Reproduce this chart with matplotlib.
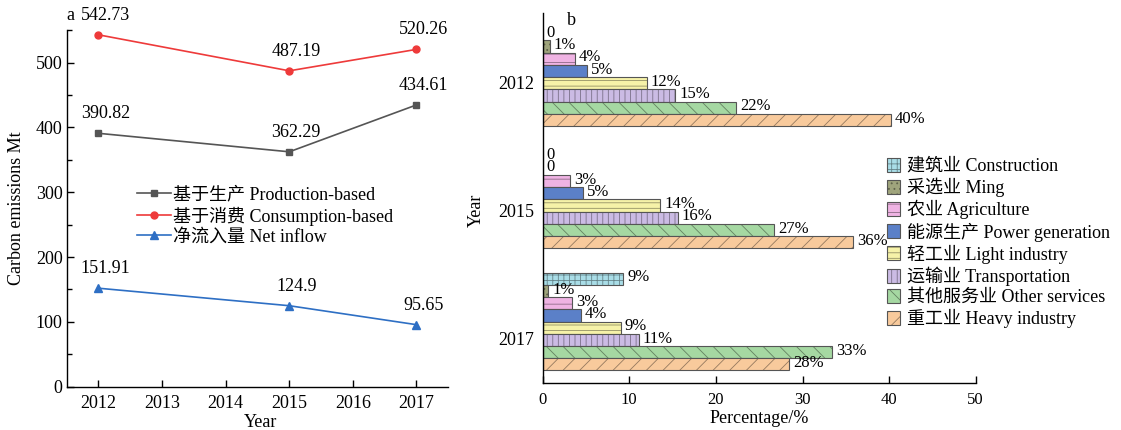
import numpy as np
import matplotlib
matplotlib.use('Agg')
from matplotlib import pyplot as plt
from matplotlib.patches import Patch
from matplotlib.ticker import MultipleLocator
from matplotlib.legend_handler import HandlerTuple

plt.rcParams['font.family'] = ['Liberation Serif', 'Noto Sans CJK SC']
plt.rcParams['hatch.linewidth'] = 0.6

# panel a: carbon emissions by accounting method
years = [2012, 2015, 2017]
production = [390.82, 362.29, 434.61]
consumption = [542.73, 487.19, 520.26]
net_inflow = [151.91, 124.9, 95.65]
series_labels = ['基于生产 Production-based', '基于消费 Consumption-based', '净流入量 Net inflow']

# panel b: sector shares (%) per year
bar_years = ['2012', '2015', '2017']
sectors = ['建筑业 Construction', '采选业 Ming', '农业 Agriculture', '能源生产 Power generation',
           '轻工业 Light industry', '运输业 Transportation', '其他服务业 Other services', '重工业 Heavy industry']
share_2012 = [0, 0.8, 3.7, 5.1, 12.0, 15.3, 22.3, 40.2]
share_2015 = [0, 0, 3.2, 4.6, 13.6, 15.6, 26.7, 35.8]
share_2017 = [9.3, 0.6, 3.4, 4.4, 9.0, 11.1, 33.4, 28.4]

fig = plt.figure(figsize=[11.21, 4.30], dpi=100)

# ---- panel a ----
ax = fig.add_axes([0.0595, 0.1007, 0.3404, 0.8293])
styles = [
    (production, '#555555', 's', 4.5),
    (consumption, '#ee3a3a', 'o', 5.0),
    (net_inflow, '#2e6fc4', '^', 5.5),
]
for (vals, col, mk, ms), lab in zip(styles, series_labels):
    ax.plot(years, vals, color=col, marker=mk, markersize=ms, linewidth=1.2, label=lab)
    for x, v in zip(years, vals):
        ax.annotate(f'{v:g}', (x, v), xytext=(5, 14), textcoords='offset points',
                    ha='center', va='center', fontsize=13)

ax.set_xlim(2011.5, 2017.5)
ax.set_ylim(0, 550)
ax.set_xticks(range(2012, 2018))
ax.yaxis.set_major_locator(MultipleLocator(100))
ax.yaxis.set_minor_locator(MultipleLocator(50))
ax.tick_params(which='both', direction='in', labelsize=13, width=1)
ax.tick_params(which='major', length=5)
ax.tick_params(which='minor', length=3.5)
ax.tick_params(axis='x', pad=6)
ax.tick_params(axis='y', pad=3)
for s in ['top', 'right']:
    ax.spines[s].set_visible(False)
for s in ['left', 'bottom']:
    ax.spines[s].set_linewidth(1)
ax.set_xlabel('Year', fontsize=13, va='top')
ax.xaxis.set_label_coords(0.509, -0.076)
ax.set_ylabel('Carbon emissions Mt', fontsize=13)
ax.yaxis.set_label_coords(-0.109, 0.5)
ax.legend(loc='upper left', bbox_to_anchor=(0.184, 0.561), frameon=False, fontsize=13,
          borderpad=0, borderaxespad=0, handlelength=1.9, handletextpad=0.1, labelspacing=0.16)
fig.text(0.0595, 0.965, 'a', fontsize=13, ha='left', va='center')

# ---- panel b ----
ax2 = fig.add_axes([0.4841, 0.1086, 0.3863, 0.8612])
faces = ['#a9dde7', '#9fa47c', '#efb3e3', '#5b80c8', '#f6f2a8', '#cbbbe4', '#a5d8a2', '#f8ca9c']
hatches = ['+++', '...', '--', '', '---', '|||', '\\\\', '//']
bar_h = 0.1
shares = np.array([share_2012, share_2015, share_2017])
groups = np.arange(len(bar_years))

handles = []
for i, (name, fc, ht) in enumerate(zip(sectors, faces, hatches)):
    ypos = groups + (i - 3.5) * bar_h
    vals = shares[:, i]
    dark = tuple(np.array(matplotlib.colors.to_rgb(fc)) * 0.6)
    ax2.barh(ypos, vals, height=bar_h, color=fc, edgecolor=dark, linewidth=0, hatch=ht)
    ax2.barh(ypos, vals, height=bar_h, fill=False, edgecolor='#555555', linewidth=0.8)
    for y, v in zip(ypos, vals):
        r = int(v + 0.5)
        txt = '0' if r == 0 else f'{r}%'
        ax2.annotate(txt, (v, y), xytext=(3, 1), textcoords='offset points',
                     ha='left', va='center', fontsize=12)
    handles.append((Patch(facecolor=fc, edgecolor=dark, linewidth=0, hatch=ht),
                    Patch(fill=False, edgecolor='#555555', linewidth=0.8)))

ax2.set_xlim(0, 50)
ax2.set_ylim(2.505, -0.525)
ax2.set_yticks(groups * 1.05 + 0.04)
ax2.set_yticklabels(bar_years)
ax2.xaxis.set_major_locator(MultipleLocator(10))
ax2.tick_params(axis='x', direction='in', length=5, width=1, labelsize=12, pad=6)
ax2.tick_params(axis='y', length=0, labelsize=13, pad=6)
for s in ['top', 'right']:
    ax2.spines[s].set_visible(False)
for s in ['left', 'bottom']:
    ax2.spines[s].set_linewidth(1)
ax2.set_xlabel('Percentage/%', fontsize=13, va='top')
ax2.xaxis.set_label_coords(0.5, -0.072)
ax2.set_ylabel('Year', fontsize=13)
ax2.yaxis.set_label_coords(-0.133, 0.468)
ax2.legend(handles, sectors, handler_map={tuple: HandlerTuple(ndivide=1)},
           loc='upper left', bbox_to_anchor=(0.794, 0.609), frameon=False, fontsize=13,
           borderpad=0, borderaxespad=0, handlelength=0.75, handleheight=0.8,
           handletextpad=0.4, labelspacing=0.16)
fig.text(0.506, 0.953, 'b', fontsize=13, ha='left', va='center')

plt.savefig('out.png', dpi=100)
plt.close()
